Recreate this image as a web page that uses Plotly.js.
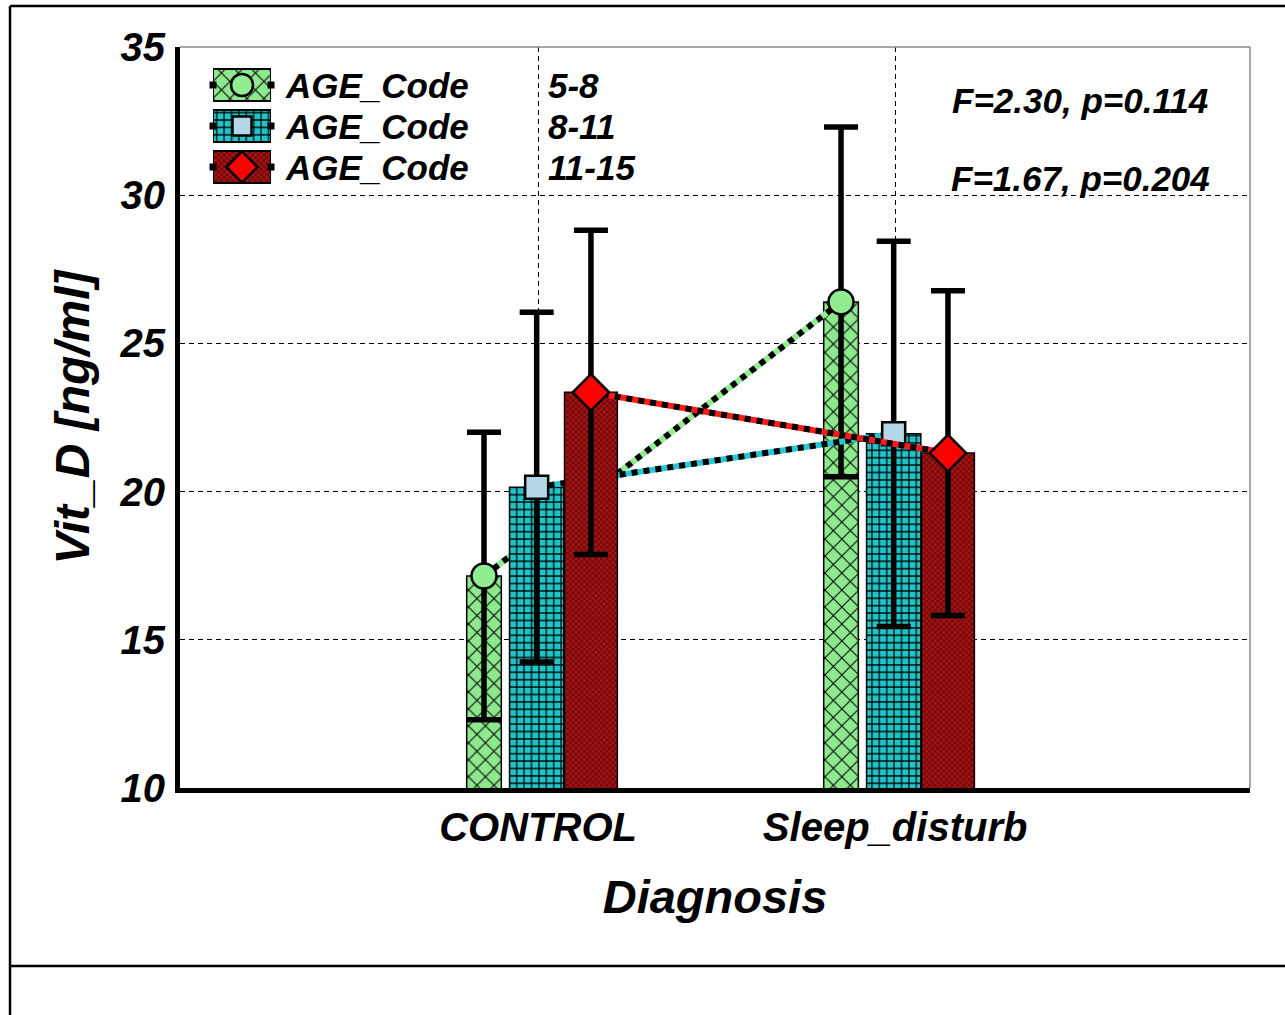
<!DOCTYPE html>
<html>
<head>
<meta charset="utf-8">
<script src="https://cdn.plot.ly/plotly-3.0.1.min.js"></script>
<style>
  html, body { margin: 0; padding: 0; background: #ffffff; }
  #chart { width: 1285px; height: 1015px; }
</style>
</head>
<body>
<div id="chart"></div>
<script>
// ---- data ----
const categories = ['CONTROL', 'Sleep_disturb'];
const ageCodes = ['5-8', '8-11', '11-15'];
const vitD_5_8   = [17.15, 26.40];
const vitD_8_11  = [20.15, 21.95];
const vitD_11_15 = [23.35, 21.30];
const err_5_8    = [4.85, 5.90];
const err_8_11   = [5.90, 6.50];
const err_11_15  = [5.47, 5.48];
const statLines  = ['F=2.30, p=0.114', 'F=1.67, p=0.204'];
const yTickVals  = [10, 15, 20, 25, 30, 35];

// ---- geometry helpers ----
const W = 1285, H = 1015;
const M = { l: 180, r: 35, t: 47, b: 227 };
const PW = W - M.l - M.r, PH = H - M.t - M.b;
const px2x = px => (px - M.l) / PW;
const px2y = py => (H - M.b - py) / PH;

const FONT = 'Liberation Sans, Arial, Helvetica, sans-serif';
const txt = size => ({ family: FONT, size: size, color: '#000000', weight: 'bold', style: 'italic' });

// one style per age group: bar offset/width within the category, fill pattern, line and marker
const styles = [
  { off: -0.200, w: 0.097, bg: '#8ee88e', fg: '#000000', shape: 'x', size: 12,  sol: 0.16,
    line: '#90ee90', sym: 'circle',  mfill: '#90ee90', msize: 25, legSize: 22 },
  { off: -0.080, w: 0.152, bg: '#1fc4c9', fg: '#000000', shape: '+', size: 7.4, sol: 0.3,
    line: '#25c8d2', sym: 'square',  mfill: '#b3d7e6', msize: 23, legSize: 19 },
  { off:  0.074, w: 0.148, bg: '#a01414', fg: '#560000', shape: 'x', size: 4,   sol: 0.35,
    line: '#ff1a1a', sym: 'diamond', mfill: '#ff0000', msize: 28, legSize: 24 }
];

const series = [
  { label: ageCodes[0], mean: vitD_5_8,   err: err_5_8 },
  { label: ageCodes[1], mean: vitD_8_11,  err: err_8_11 },
  { label: ageCodes[2], mean: vitD_11_15, err: err_11_15 }
];

const idx = categories.map((_, i) => i);
const xRange = [-1.003, 1.994];
const yRange = [10, 35];

const traces = [];
// each age group lives on its own overlaid subplot so later groups are painted over earlier ones
series.forEach((s, k) => {
  const st = styles[k];
  const xa = k === 0 ? 'x' : 'x' + (k + 1);
  const ya = k === 0 ? 'y' : 'y' + (k + 1);
  const center = st.off + st.w / 2;
  const pattern = { shape: st.shape, fgcolor: st.fg, bgcolor: st.bg, size: st.size, solidity: st.sol, fillmode: 'replace' };

  traces.push({
    type: 'bar', x: idx, y: s.mean, offset: st.off, width: st.w,
    xaxis: xa, yaxis: ya, name: s.label, showlegend: false,
    marker: { color: st.bg, pattern: pattern, line: { color: '#000000', width: 1.5 } },
    error_y: { type: 'data', array: s.err, visible: true, color: '#000000', thickness: 5.5, width: 17 }
  });
  const lx = idx.map(i => i + center);
  traces.push({
    type: 'scatter', mode: 'lines', x: lx, y: s.mean, xaxis: xa, yaxis: ya,
    showlegend: false, line: { color: st.line, width: 6 }
  });
  traces.push({
    type: 'scatter', mode: 'lines+markers', x: lx, y: s.mean, xaxis: xa, yaxis: ya,
    showlegend: false, line: { color: '#000000', width: 6, dash: 'dot' },
    marker: { symbol: st.sym, size: st.msize, color: st.mfill, line: { color: '#000000', width: 2.5 } }
  });
});

// legend swatches drawn on a small dedicated subplot
series.forEach((s, k) => {
  const st = styles[k];
  traces.push({
    type: 'bar', orientation: 'h', x: [1], y: [k + 1], base: 0, width: 0.78,
    xaxis: 'x4', yaxis: 'y4', showlegend: false,
    marker: { color: st.bg, pattern: { shape: st.shape, fgcolor: st.fg, bgcolor: st.bg, size: st.size, solidity: st.sol, fillmode: 'replace' },
              line: { color: '#000000', width: 2 } }
  });
  traces.push({
    type: 'scatter', mode: 'markers', x: [0, 1], y: [k + 1, k + 1], xaxis: 'x4', yaxis: 'y4',
    showlegend: false, cliponaxis: false,
    marker: { symbol: 'square', size: 7, color: '#000000' }
  });
  traces.push({
    type: 'scatter', mode: 'markers', x: [0.5], y: [k + 1], xaxis: 'x4', yaxis: 'y4',
    showlegend: false, cliponaxis: false,
    marker: { symbol: st.sym, size: st.legSize, color: st.mfill, line: { color: '#000000', width: 2.5 } }
  });
});

const legendRows = [85, 126, 167];
const annotations = [];
series.forEach((s, k) => {
  annotations.push({ xref: 'paper', yref: 'paper', x: px2x(283), y: px2y(legendRows[k]),
    xanchor: 'left', yanchor: 'middle', showarrow: false, text: 'AGE_Code', font: txt(35) });
  annotations.push({ xref: 'paper', yref: 'paper', x: px2x(546), y: px2y(legendRows[k]),
    xanchor: 'left', yanchor: 'middle', showarrow: false, text: s.label, font: txt(35) });
});
const statRows = [100, 178];
statLines.forEach((t, k) => {
  annotations.push({ xref: 'paper', yref: 'paper', x: px2x(1080), y: px2y(statRows[k]),
    xanchor: 'center', yanchor: 'middle', showarrow: false, text: t, font: txt(35) });
});

const frame = { color: '#000000', width: 2.5 };
const shapes = [
  // outer frame
  { type: 'line', xref: 'paper', yref: 'paper', x0: px2x(10), x1: px2x(10), y0: px2y(6), y1: px2y(1015), line: frame },
  { type: 'line', xref: 'paper', yref: 'paper', x0: px2x(10), x1: px2x(1285), y0: px2y(6), y1: px2y(6), line: frame },
  { type: 'line', xref: 'paper', yref: 'paper', x0: px2x(10), x1: px2x(1285), y0: px2y(966), y1: px2y(966), line: frame },
  // thin top / right plot border
  { type: 'line', xref: 'paper', yref: 'paper', x0: 0, x1: 1, y0: 1, y1: 1, line: { color: '#8a8a8a', width: 1.5 }, layer: 'above' },
  { type: 'line', xref: 'paper', yref: 'paper', x0: 1, x1: 1, y0: 0, y1: 1, line: { color: '#8a8a8a', width: 1.5 }, layer: 'above' }
];

const hidden = { visible: false, showgrid: false, zeroline: false, fixedrange: true };
const layout = {
  width: W, height: H, margin: M,
  paper_bgcolor: '#ffffff', plot_bgcolor: '#ffffff',
  showlegend: false, hovermode: false,
  xaxis: {
    range: xRange, tickvals: idx, ticktext: categories, ticks: '',
    showgrid: true, gridcolor: '#000000', gridwidth: 1, griddash: '5px,4px',
    showline: true, linecolor: '#000000', linewidth: 5, zeroline: false,
    tickfont: txt(40), ticklabelstandoff: 0,
    title: { text: 'Diagnosis', font: txt(47), standoff: 34 }
  },
  yaxis: {
    range: yRange, tickvals: yTickVals, ticks: '',
    showgrid: true, gridcolor: '#000000', gridwidth: 1, griddash: '5px,4px',
    showline: true, linecolor: '#000000', linewidth: 5, zeroline: false,
    tickfont: txt(40), ticklabelstandoff: 2,
    title: { text: 'Vit_D [ng/ml]', font: txt(48), standoff: 16 }
  },
  xaxis2: Object.assign({ overlaying: 'x', range: xRange, anchor: 'y2' }, hidden),
  yaxis2: Object.assign({ overlaying: 'y', range: yRange, anchor: 'x2' }, hidden),
  xaxis3: Object.assign({ overlaying: 'x', range: xRange, anchor: 'y3' }, hidden),
  yaxis3: Object.assign({ overlaying: 'y', range: yRange, anchor: 'x3' }, hidden),
  xaxis4: Object.assign({ domain: [px2x(213), px2x(271)], range: [0, 1], anchor: 'y4' }, hidden),
  yaxis4: Object.assign({ domain: [px2y(187.5), px2y(64.5)], range: [3.5, 0.5], anchor: 'x4' }, hidden),
  annotations: annotations,
  shapes: shapes
};

Plotly.newPlot('chart', traces, layout, { staticPlot: true, displayModeBar: false });
</script>
</body>
</html>
